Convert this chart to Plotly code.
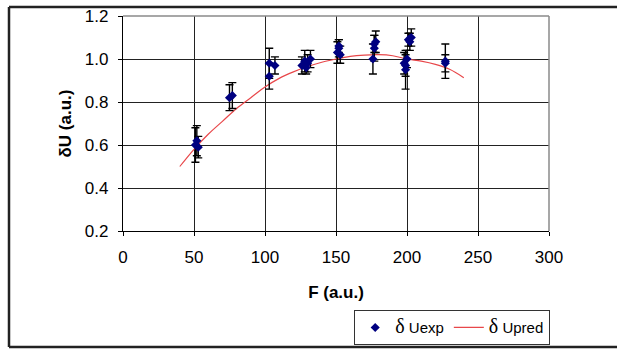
import plotly.graph_objects as go

# Experimental points (F, dU, symmetric error)
f_exp = [51, 52, 53, 75, 77, 103, 103, 107, 126, 128, 129, 130, 132,
         151, 152, 152, 153, 176, 177, 177, 178, 198, 199, 199, 200,
         201, 202, 203, 227, 227]
du_exp = [0.60, 0.62, 0.59, 0.82, 0.83, 0.98, 0.92, 0.97, 0.97, 0.99, 0.96, 0.98, 1.00,
          1.03, 1.05, 1.06, 1.02, 1.00, 1.05, 1.07, 1.08, 0.98, 0.95, 0.97, 1.00,
          1.09, 1.08, 1.10, 0.99, 0.98]
du_err = [0.08, 0.07, 0.05, 0.06, 0.06, 0.07, 0.06, 0.04, 0.04, 0.05, 0.03, 0.04, 0.04,
          0.05, 0.04, 0.03, 0.04, 0.07, 0.06, 0.04, 0.05, 0.05, 0.09, 0.05, 0.04,
          0.03, 0.04, 0.04, 0.08, 0.04]

# Predicted curve
f_pred = [40, 50, 60, 70, 80, 90, 100, 110, 120, 130, 140, 150, 160, 170, 180,
          190, 200, 210, 220, 230, 240]
du_pred = [0.50, 0.58, 0.65, 0.71, 0.77, 0.82, 0.87, 0.91, 0.94, 0.965, 0.985, 1.00,
           1.012, 1.018, 1.02, 1.015, 1.00, 0.99, 0.975, 0.952, 0.913]

x_ticks = [0, 50, 100, 150, 200, 250, 300]
y_ticks = [0.2, 0.4, 0.6, 0.8, 1.0, 1.2]

D = "<span style='font-family:\"Liberation Serif\"; font-size:20px'>δ</span>"

fig = go.Figure()
fig.add_trace(go.Scatter(
    x=f_pred, y=du_pred, mode="lines", name=D + " Upred",
    line=dict(color="#E8474A", width=1.2, shape="spline"),
))
fig.add_trace(go.Scatter(
    x=f_exp, y=du_exp, mode="markers", name=D + " Uexp",
    marker=dict(symbol="diamond", size=7, color="#000080"),
    error_y=dict(type="data", array=du_err, color="black", thickness=1.4, width=4),
))

W, H = 617, 349
L, R, T, B = 123, 549, 16, 231
pw, ph = R - L, B - T

def px(xp):
    return (xp - L) / pw

def py(yp):
    return (B - yp) / ph

shapes = [
    # outer frame
    dict(type="line", xref="paper", yref="paper", x0=px(9), x1=px(617), y0=py(7), y1=py(7),
         line=dict(color="#222", width=2.5)),
    dict(type="line", xref="paper", yref="paper", x0=px(9), x1=px(9), y0=py(7), y1=py(347),
         line=dict(color="#222", width=2.5)),
    dict(type="line", xref="paper", yref="paper", x0=px(9), x1=px(617), y0=py(347), y1=py(347),
         line=dict(color="#222", width=2.5)),
    # plot area top/right in gray
    dict(type="line", xref="paper", yref="paper", x0=0, x1=1, y0=1, y1=1,
         line=dict(color="#8a8a8a", width=1.5)),
    dict(type="line", xref="paper", yref="paper", x0=1, x1=1, y0=0, y1=1,
         line=dict(color="#8a8a8a", width=1.5)),
]

fig.update_layout(
    width=W, height=H,
    margin=dict(l=L, r=W - R, t=T, b=H - B, autoexpand=False),
    paper_bgcolor="white", plot_bgcolor="white",
    font=dict(family="Liberation Sans, Arial", size=17, color="black"),
    showlegend=True,
    legend=dict(
        orientation="h", x=px(354), y=py(310), xanchor="left", yanchor="top",
        bordercolor="#333", borderwidth=1.2, bgcolor="white",
        font=dict(size=15), traceorder="reversed",
        tracegroupgap=0,
    ),
    xaxis=dict(
        range=[0, 300], tickvals=x_ticks, ticktext=[str(v) for v in x_ticks],
        showgrid=True, gridcolor="#222", gridwidth=1,
        showline=True, linecolor="black", linewidth=1.2,
        ticks="outside", ticklen=4, tickcolor="black",
        ticklabelstandoff=6, automargin=False,
        zeroline=False,
        title=dict(text="<b>F (a.u.)</b>", font=dict(size=17), standoff=20),
    ),
    yaxis=dict(
        range=[0.2, 1.2], tickvals=y_ticks, ticktext=["%.1f" % v for v in y_ticks],
        showgrid=True, gridcolor="#222", gridwidth=1,
        showline=True, linecolor="black", linewidth=1.2,
        ticks="outside", ticklen=4, tickcolor="black",
        ticklabelstandoff=6, automargin=False,
        zeroline=False,
        title=dict(text="<b>δU (a.u.)</b>", font=dict(size=17), standoff=8),
    ),
    shapes=shapes,
)

fig.write_html("out.html")
